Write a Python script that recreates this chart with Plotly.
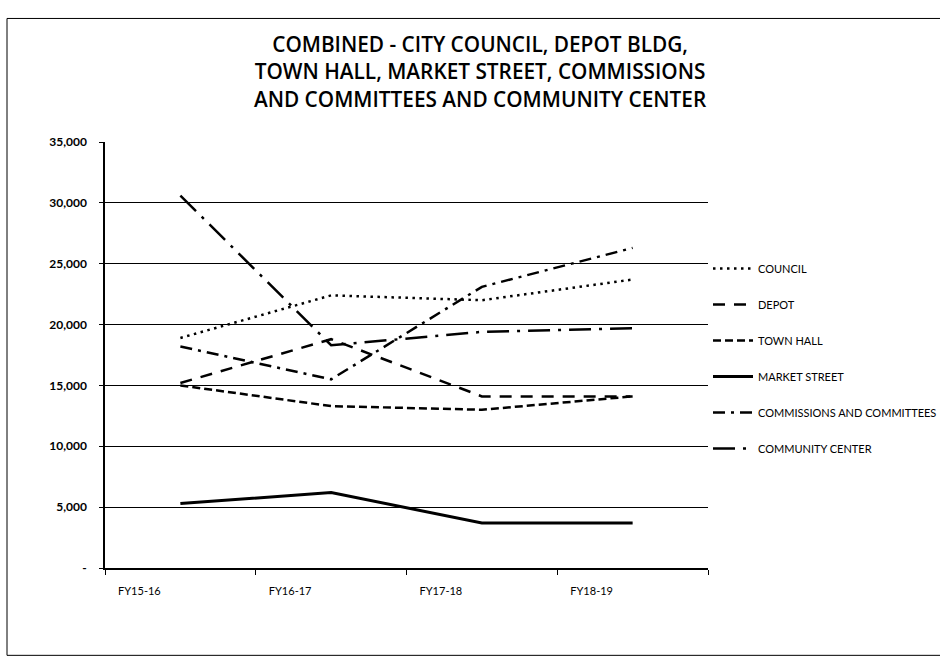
import plotly.graph_objects as go

# Annual totals by facility / program
years = ["FY15-16", "FY16-17", "FY17-18", "FY18-19"]
council = [18900, 22400, 22000, 23700]
depot = [15200, 18800, 14100, 14100]
town_hall = [15000, 13300, 13000, 14100]
market_street = [5300, 6200, 3700, 3700]
commissions = [18200, 15500, 23100, 26300]
community_center = [30600, 18300, 19400, 19700]

y_ticks = [0, 5000, 10000, 15000, 20000, 25000, 30000, 35000]
y_tick_text = ["-", "5,000", "10,000", "15,000", "20,000", "25,000", "30,000", "35,000"]

series = [
    ("COUNCIL", council, "2.5px,4.5px", 2.5),
    ("DEPOT", depot, "12px,9px", 2.5),
    ("TOWN HALL", town_hall, "8px,4px", 2.5),
    ("MARKET STREET", market_street, "solid", 3),
    ("COMMISSIONS AND COMMITTEES", commissions, "12px,6px,3px,6px", 2.5),
    ("COMMUNITY CENTER", community_center, "22px,8px,3px,8px", 2.5),
]

FONT = "Lato, 'Open Sans', sans-serif"

fig = go.Figure()
for i, (name, vals, dash, width) in enumerate(series):
    fig.add_trace(go.Scatter(
        x=years, y=vals, name=name, mode="lines",
        line=dict(color="black", width=width, dash=dash),
        legendgroup=f"g{i}",
    ))

fig.update_layout(
    width=940, height=664,
    margin=dict(l=105, r=232, t=142, b=96, autoexpand=False),
    paper_bgcolor="white", plot_bgcolor="white",
    font=dict(family=FONT, color="black"),
    title=dict(
        text="COMBINED - CITY COUNCIL, DEPOT BLDG,<br>TOWN HALL, MARKET STREET, COMMISSIONS<br>AND COMMITTEES AND COMMUNITY CENTER",
        x=0.622, xref="paper", xanchor="center",
        y=0.921, yanchor="top",
        font=dict(size=20.8, family="'Open Sans', sans-serif", color="black", weight=600),
    ),
    showlegend=True,
    legend=dict(
        x=1.0, xanchor="left", y=0.737, yanchor="top",
        font=dict(size=11, family=FONT, color="black"),
        tracegroupgap=17, itemwidth=40,
        bgcolor="rgba(0,0,0,0)",
    ),
    shapes=[dict(
        type="rect", xref="paper", yref="paper",
        x0=-0.1625, x1=1.6, y0=-0.205, y1=1.29,
        line=dict(color="black", width=1), layer="below",
    )],
)

fig.update_xaxes(
    type="category", range=[-0.5, 3.5], showgrid=False, zeroline=False,
    showline=True, linecolor="black", linewidth=1.5,
    ticks="outside", tickson="boundaries", ticklen=5, tickcolor="black",
    tickfont=dict(size=11, family=FONT, color="black"),
    ticklabelshift=-41, ticklabelstandoff=12,
)
fig.update_yaxes(
    range=[0, 35000], tickvals=y_ticks, ticktext=y_tick_text,
    showgrid=True, gridcolor="black", gridwidth=1, zeroline=False,
    showline=True, linecolor="black", linewidth=1.5,
    ticks="outside", ticklen=4, tickcolor="black",
    tickfont=dict(size=12, family=FONT, color="black", weight="bold"),
    ticklabelstandoff=10,
)

fig.write_html("out.html")
